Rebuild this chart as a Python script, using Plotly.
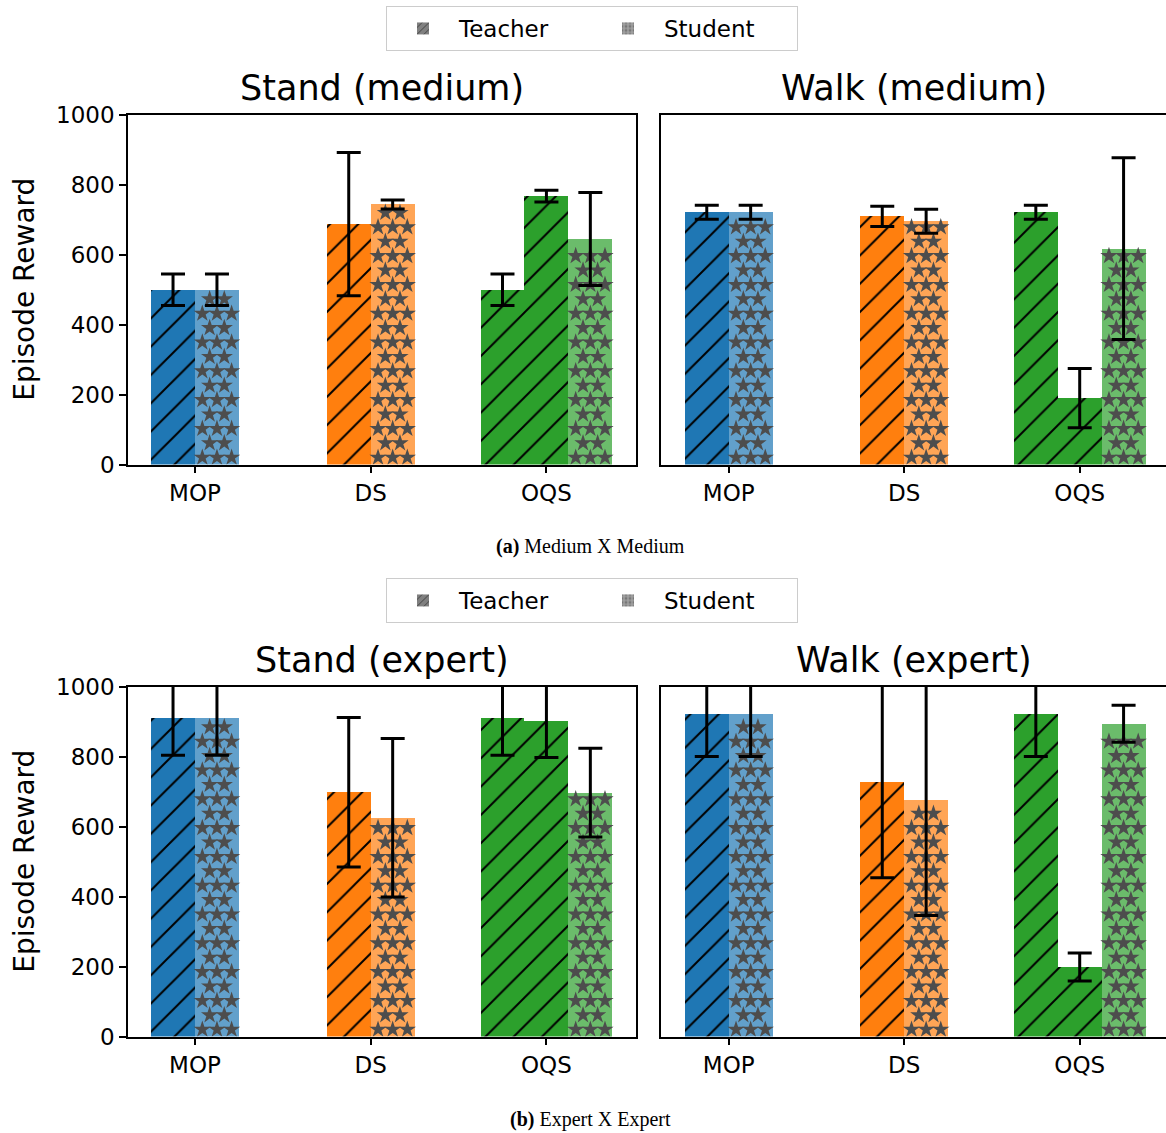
import numpy as np
import plotly.graph_objects as go

# ---------------- data ----------------
categories = ["MOP", "DS", "OQS"]
panel_titles = ["Stand (medium)", "Walk (medium)", "Stand (expert)", "Walk (expert)"]
y_ticks = [0, 200, 400, 600, 800, 1000]
legend_labels = ["Teacher", "Student"]
caption_tags = ["(a)", "(b)"]
caption_texts = ["Medium X Medium", "Expert X Expert"]
y_label = "Episode Reward"

# Stand (medium)
stand_med_teacher = [500, 688, 500]
stand_med_teacher_err = [45, 205, 45]
stand_med_oqs_teacher2 = 768
stand_med_oqs_teacher2_err = 17
stand_med_student = [500, 744, 645]
stand_med_student_err = [45, 13, 133]

# Walk (medium)
walk_med_teacher = [722, 710, 722]
walk_med_teacher_err = [20, 29, 20]
walk_med_oqs_teacher2 = 190
walk_med_oqs_teacher2_err = 85
walk_med_student = [722, 696, 618]
walk_med_student_err = [20, 34, 260]

# Stand (expert)
stand_exp_teacher = [911, 699, 911]
stand_exp_teacher_err = [106, 214, 106]
stand_exp_oqs_teacher2 = 902
stand_exp_oqs_teacher2_err = 104
stand_exp_student = [911, 626, 698]
stand_exp_student_err = [106, 227, 127]

# Walk (expert)
walk_exp_teacher = [924, 729, 924]
walk_exp_teacher_err = [123, 275, 123]
walk_exp_oqs_teacher2 = 199
walk_exp_oqs_teacher2_err = 40
walk_exp_student = [924, 677, 895]
walk_exp_student_err = [123, 331, 53]

panels = [
    (stand_med_teacher, stand_med_teacher_err, stand_med_oqs_teacher2, stand_med_oqs_teacher2_err,
     stand_med_student, stand_med_student_err),
    (walk_med_teacher, walk_med_teacher_err, walk_med_oqs_teacher2, walk_med_oqs_teacher2_err,
     walk_med_student, walk_med_student_err),
    (stand_exp_teacher, stand_exp_teacher_err, stand_exp_oqs_teacher2, stand_exp_oqs_teacher2_err,
     stand_exp_student, stand_exp_student_err),
    (walk_exp_teacher, walk_exp_teacher_err, walk_exp_oqs_teacher2, walk_exp_oqs_teacher2_err,
     walk_exp_student, walk_exp_student_err),
]

# ---------------- style / layout ----------------
W, H = 1166, 1133
base_colors = ["#1f77b4", "#ff7f0e", "#2ca02c"]
light_colors = ["#62a0cb", "#ffa556", "#6bbc6b"]
star_color = "#4d4d4d"
BW = 0.25
FONT = "DejaVu Sans"

col_px = [(128, 635.5), (661, 1166)]
row_px = [(115, 464.5), (687, 1036.5)]
x_ranges = [(-0.3813, 2.507), (-0.3858, 2.4917)]


def xd(px):
    return px / W


def yd(py):
    return 1 - py / H


fig = go.Figure()

for p, (t, te, t2, t2e, s, se) in enumerate(panels):
    r, c = divmod(p, 2)
    sfx = "" if p == 0 else str(p + 1)
    xref, yref = "x" + sfx, "y" + sfx
    x0p, x1p = col_px[c]
    y0p, y1p = row_px[r]
    xr = x_ranges[c]
    px_per_x = (x1p - x0p) / (xr[1] - xr[0])
    px_per_y = (y1p - y0p) / 1000.0

    err_x, err_y, err_v = [], [], []
    for i, cat in enumerate(categories):
        if cat == "OQS":
            xs_t = [i - BW, i]
            ys_t = [t[i], t2]
            es_t = [te[i], t2e]
            x_s = i + BW
        else:
            xs_t = [i - BW / 2]
            ys_t = [t[i]]
            es_t = [te[i]]
            x_s = i + BW / 2
        # teacher bars (hatched)
        fig.add_trace(go.Bar(
            x=xs_t, y=ys_t, width=[BW] * len(xs_t), xaxis=xref, yaxis=yref,
            marker=dict(color=base_colors[i], line=dict(width=0),
                        pattern=dict(shape="/", fgcolor="black", bgcolor=base_colors[i],
                                     size=20, solidity=0.1, fgopacity=1)),
            showlegend=False, hoverinfo="skip"))
        # student bar
        fig.add_trace(go.Bar(
            x=[x_s], y=[s[i]], width=[BW], xaxis=xref, yaxis=yref,
            marker=dict(color=light_colors[i], line=dict(width=0)),
            showlegend=False, hoverinfo="skip"))
        # star texture of the student bar
        wpx = BW * px_per_x
        top_px = s[i] * px_per_y
        sx, sy = [], []
        k = 0
        while True:
            ypx = 7 + k * 14.4
            if ypx + 5.5 > top_px:
                break
            offs = [wpx / 6, wpx / 2, 5 * wpx / 6] if k % 2 == 0 else [wpx / 3, 2 * wpx / 3]
            for o in offs:
                sx.append(x_s - BW / 2 + o / px_per_x)
                sy.append(ypx / px_per_y)
            k += 1
        fig.add_trace(go.Scatter(
            x=sx, y=sy, mode="markers", xaxis=xref, yaxis=yref,
            marker=dict(symbol="star", size=13, color=star_color, line=dict(width=0)),
            showlegend=False, hoverinfo="skip"))
        err_x += xs_t + [x_s]
        err_y += ys_t + [s[i]]
        err_v += es_t + [se[i]]

    # error bars on top
    fig.add_trace(go.Scatter(
        x=err_x, y=err_y, mode="markers", xaxis=xref, yaxis=yref,
        marker=dict(color="rgba(0,0,0,0)", size=1),
        error_y=dict(type="data", array=err_v, color="black", thickness=3, width=12),
        showlegend=False, hoverinfo="skip"))

    axis_common = dict(showline=True, linecolor="black", linewidth=1.5, mirror=True,
                       showgrid=False, zeroline=False)
    fig.update_layout(**{
        "xaxis" + sfx: dict(domain=[xd(x0p), xd(x1p)], anchor=yref, range=list(xr),
                            tickmode="array", tickvals=[0, 1, 2], ticktext=categories,
                            ticks="outside", ticklen=7, tickwidth=1.5, tickcolor="black",
                            tickfont=dict(size=23, family=FONT, color="black"), **axis_common),
        "yaxis" + sfx: dict(domain=[yd(y1p), yd(y0p)], anchor=xref, range=[0, 1000],
                            tickmode="array", tickvals=y_ticks,
                            ticks="outside" if c == 0 else "", ticklen=7, tickwidth=1.5,
                            tickcolor="black", showticklabels=(c == 0),
                            tickfont=dict(size=23, family=FONT, color="black"), **axis_common),
    })
    fig.add_annotation(text=panel_titles[p], xref="paper", yref="paper",
                       x=xd((x0p + x1p) / 2), y=yd(y0p - 27), xanchor="center", yanchor="middle",
                       showarrow=False, font=dict(size=35, family=FONT, color="black"))

# y labels and captions
for r in range(2):
    y0p, y1p = row_px[r]
    fig.add_annotation(text=y_label, xref="paper", yref="paper", x=xd(25), y=yd((y0p + y1p) / 2),
                       xanchor="center", yanchor="middle", textangle=-90, showarrow=False,
                       font=dict(size=28, family=FONT, color="black"))
    fig.add_annotation(text="<b>" + caption_tags[r] + "</b> " + caption_texts[r],
                       xref="paper", yref="paper", x=xd(590), y=yd(547 + r * 572),
                       xanchor="center", yanchor="middle", showarrow=False,
                       font=dict(size=20, family="Liberation Serif", color="black"))

# legends (one per row)
for r, lg in enumerate(["legend", "legend2"]):
    fig.add_trace(go.Bar(x=[None], y=[None], name=legend_labels[0], legend=lg,
                         marker=dict(color="#808080", line=dict(width=0),
                                     pattern=dict(shape="/", fgcolor="black", bgcolor="#808080",
                                                  size=6, solidity=0.2))))
    fig.add_trace(go.Bar(x=[None], y=[None], name=legend_labels[1], legend=lg,
                         marker=dict(color="#a0a0a0", line=dict(width=0),
                                     pattern=dict(shape=".", fgcolor=star_color, bgcolor="#a0a0a0",
                                                  size=5, solidity=0.4))))
    fig.update_layout(**{lg: dict(orientation="h", x=xd(592), xanchor="center",
                                  y=yd(6 + r * 572), yanchor="top",
                                  bordercolor="#cccccc", borderwidth=1, bgcolor="white",
                                  font=dict(size=23, family=FONT, color="black"),
                                  itemwidth=62, entrywidth=128)})

fig.update_layout(width=W, height=H, margin=dict(l=0, r=0, t=0, b=0, autoexpand=False),
                  paper_bgcolor="white", plot_bgcolor="white", barmode="overlay",
                  bargap=0, showlegend=True)

fig.write_html("out.html")
